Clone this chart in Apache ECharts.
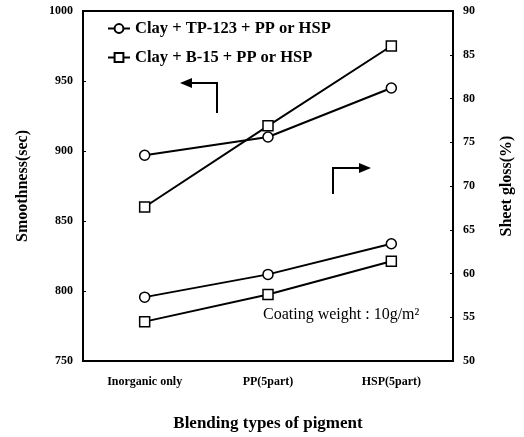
<!DOCTYPE html>
<html>
<head>
<meta charset="utf-8">
<script src="https://cdn.jsdelivr.net/npm/echarts@6/dist/echarts.min.js"></script>
<style>
  html, body { margin: 0; padding: 0; background: #fff; }
  #chart { width: 524px; height: 437px; }
</style>
</head>
<body>
<div id="chart"></div>
<script>
// data
var categories = ["Inorganic only", "PP(5part)", "HSP(5part)"];
var seriesNames = ["Clay + TP-123 + PP or HSP", "Clay + B-15 + PP or HSP"];
var smoothTP = [897, 910, 945];
var smoothB15 = [860, 918, 975];
var glossTP = [57.3, 59.9, 63.4];
var glossB15 = [54.5, 57.6, 61.4];

var font = "Liberation Serif";

var chart = echarts.init(document.getElementById("chart"));

function lineSeries(name, data, axis, symbol) {
  return {
    name: name,
    type: "line",
    yAxisIndex: axis,
    data: data,
    symbol: symbol,
    symbolSize: 10,
    showSymbol: true,
    lineStyle: { color: "#000", width: 2 },
    itemStyle: { color: "#fff", borderColor: "#000", borderWidth: 1.5 },
    z: 3
  };
}

chart.setOption({
  animation: false,
  grid: {
    left: 83, right: 71, top: 11, bottom: 73,
    show: true, borderColor: "#000", borderWidth: 2
  },
  legend: {
    orient: "vertical",
    left: 102, top: 15,
    itemWidth: 22, itemHeight: 11, itemGap: 12,
    data: seriesNames,
    textStyle: { fontFamily: font, fontWeight: "bold", fontSize: 16.5, color: "#000" }
  },
  xAxis: {
    type: "category",
    data: categories,
    name: "Blending types of pigment",
    nameLocation: "middle",
    nameGap: 54,
    nameTextStyle: { fontFamily: font, fontWeight: "bold", fontSize: 17, color: "#000" },
    axisLine: { lineStyle: { color: "#000", width: 2 } },
    axisTick: { inside: true, length: 4, lineStyle: { color: "#000" } },
    axisLabel: { fontFamily: font, fontWeight: "bold", fontSize: 12, color: "#000", margin: 15 }
  },
  yAxis: [
    {
      type: "value",
      min: 750, max: 1000, interval: 50,
      name: "Smoothness(sec)",
      nameLocation: "middle",
      nameGap: 52,
      nameRotate: 90,
      nameTextStyle: { fontFamily: font, fontWeight: "bold", fontSize: 16, color: "#000" },
      axisLine: { show: true, lineStyle: { color: "#000", width: 2 } },
      axisTick: { show: true, inside: true, length: 3, lineStyle: { color: "#000" } },
      axisLabel: { fontFamily: font, fontWeight: "bold", fontSize: 12, color: "#000", margin: 10,
        formatter: function (v) { return String(v); } },
      splitLine: { show: false }
    },
    {
      type: "value",
      min: 50, max: 90, interval: 5,
      name: "Sheet gloss(%)",
      nameLocation: "middle",
      nameGap: 46,
      nameRotate: 90,
      nameTextStyle: { fontFamily: font, fontWeight: "bold", fontSize: 16, color: "#000" },
      axisLine: { show: true, lineStyle: { color: "#000", width: 2 } },
      axisTick: { show: true, inside: true, length: 3, lineStyle: { color: "#000" } },
      axisLabel: { fontFamily: font, fontWeight: "bold", fontSize: 12, color: "#000", margin: 10 },
      splitLine: { show: false }
    }
  ],
  series: [
    lineSeries(seriesNames[0], smoothTP, 0, "circle"),
    lineSeries(seriesNames[1], smoothB15, 0, "rect"),
    lineSeries(seriesNames[0], glossTP, 1, "circle"),
    lineSeries(seriesNames[1], glossB15, 1, "rect")
  ],
  graphic: [
    // arrow pointing to the left axis
    { type: "polyline", shape: { points: [[217, 113], [217, 83], [190, 83]] },
      style: { stroke: "#000", lineWidth: 2, fill: null } },
    { type: "polygon", shape: { points: [[180, 83], [192, 78], [192, 88]] },
      style: { fill: "#000" } },
    // arrow pointing to the right axis
    { type: "polyline", shape: { points: [[333, 194], [333, 168], [360, 168]] },
      style: { stroke: "#000", lineWidth: 2, fill: null } },
    { type: "polygon", shape: { points: [[371, 168], [359, 163], [359, 173]] },
      style: { fill: "#000" } },
    { type: "text", left: 263, top: 307,
      style: { text: "Coating weight : 10g/m\u00B2", font: "16px 'Liberation Serif'", fill: "#000" } }
  ]
});
</script>
</body>
</html>
